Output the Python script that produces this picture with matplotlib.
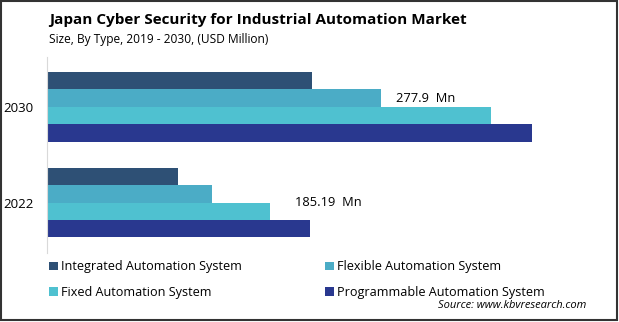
import numpy as np
import matplotlib.pyplot as plt
from matplotlib.patches import Rectangle

plt.rcParams['font.family'] = ['Open Sans', 'DejaVu Sans']

# Market size by type (USD Million)
years = ["2022", "2030"]
series = ["Integrated Automation System", "Flexible Automation System",
          "Fixed Automation System", "Programmable Automation System"]
integrated = [108.5, 220.4]
flexible = [136.8, 277.9]
fixed = [185.19, 369.5]
programmable = [218.7, 403.4]
colors = ["#2e5075", "#4bacc6", "#4fc1d0", "#29388f"]

W, H = 619, 322
fig = plt.figure(figsize=(W / 100, H / 100), dpi=100)
ax = fig.add_axes([47.5 / W, 69 / H, 552 / W, 196 / H])

y = np.arange(len(years))
h = 0.181
values = [integrated, flexible, fixed, programmable]
offsets = [1.5 * h, 0.5 * h, -0.5 * h, -1.5 * h]
bars = []
for vals, off, c, name in zip(values, offsets, colors, series):
    b = ax.barh(y + off, vals, height=h, color=c, label=name)
    bars.append(b)

ax.set_xlim(0, 460)
ax.set_ylim(-0.524, 1.519)
ax.set_yticks(y)
ax.set_yticklabels(years, fontsize=9.5)
ax.tick_params(axis="y", length=0, pad=10)
ax.set_xticks([])
for s in ["top", "right", "bottom"]:
    ax.spines[s].set_visible(False)
ax.spines["left"].set_color("#d9d9d9")

# value labels
ax.text(flexible[1] + 12.5, y[1] + 0.5 * h, f"{flexible[1]:.1f}  Mn",
        va="center", ha="left", fontsize=9.3)
ax.text(fixed[0] + 21, y[0] - 0.5 * h + 0.09, f"{fixed[0]:.2f}  Mn",
        va="center", ha="left", fontsize=9.3)

# titles
fig.text(49 / W, 1 - 20 / H, "Japan Cyber Security for Industrial Automation Market",
         fontsize=11, fontweight="bold", va="center", ha="left")
fig.text(49 / W, 1 - 40 / H, "Size, By Type, 2019 - 2030, (USD Million)",
         fontsize=8.6, va="center", ha="left")

# legend
order = [0, 2, 1, 3]
fig.legend([bars[i] for i in order], [series[i] for i in order],
           ncol=2, loc="upper left", bbox_to_anchor=(43 / W, 1 - 254 / H),
           frameon=False, fontsize=9.1, handlelength=0.68, handleheight=0.68,
           handletextpad=0.25, labelspacing=1.0, columnspacing=6.6, borderpad=0)

fig.text(586 / W, 1 - 305 / H, "Source: www.kbvresearch.com",
         fontsize=8, style="italic", va="center", ha="right")

# frame around the whole figure
fig.patches.append(Rectangle((1 / W, 2 / H), 616 / W, 319 / H, transform=fig.transFigure,
                             fill=False, edgecolor="#333333", linewidth=1.5))

fig.savefig("out.png", dpi=100)
